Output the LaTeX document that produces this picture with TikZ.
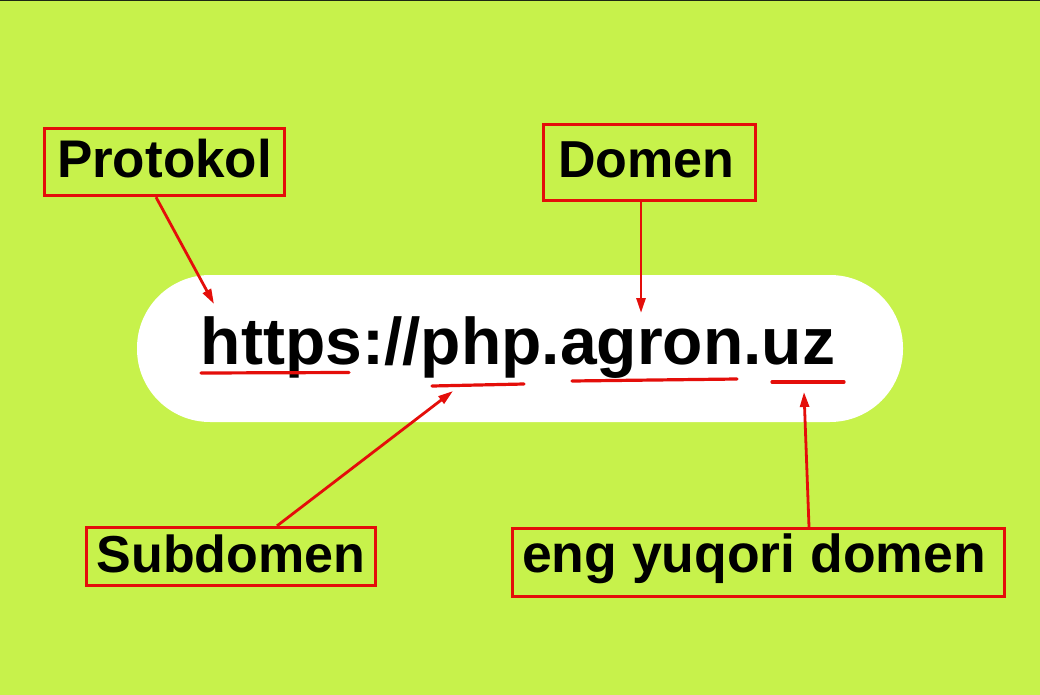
\documentclass[tikz,border=0pt]{standalone}
\usepackage{fontspec}
\setmainfont{Liberation Sans}
\usetikzlibrary{arrows.meta}
\definecolor{bglime}{RGB}{199,242,75}
\definecolor{mred}{RGB}{228,14,10}
\definecolor{topline}{RGB}{30,40,20}
\tikzset{
  labelbox/.style={draw=mred, line width=3.3pt, inner sep=0pt, text depth=0pt,
    font=\fontsize{53}{60}\selectfont\bfseries, text=black},
  pointer/.style={draw=mred, line width=2.8pt, -{Triangle[length=15pt,width=9pt]}},
  uline/.style={draw=mred, line width=3.2pt, line cap=round},
}
\begin{document}
\begin{tikzpicture}[x=1pt,y=-1pt]
\useasboundingbox (0,0) rectangle (1040,695);
\fill[bglime] (0,0) rectangle (1040,695);
\fill[topline] (0,0) rectangle (1040,1.5);
% pill
\fill[white, rounded corners=73pt] (137,275) rectangle (903,422);
\node[anchor=base, inner sep=0pt, font=\fontsize{66}{70}\selectfont\bfseries] (url) at (518,364) {https://php.agron.uz};
% underlines
\draw[uline] (201,373) -- (349,372.5);
\draw[uline] (432,386) -- (524,384);
\draw[uline] (572,381) -- (737,379);
\draw[uline] (772,382) -- (844,382);
% label boxes
\node[labelbox, minimum width=240pt, minimum height=67pt, text height=30pt] (prot) at (164.5,162) {Protokol};
\node[labelbox, minimum width=212pt, minimum height=76pt, text height=29pt, font=\fontsize{52}{60}\selectfont\bfseries] (dom) at (649.5,162.5) {Domen\hspace*{6pt}};
\node[labelbox, minimum width=289pt, minimum height=58pt, text height=31pt, font=\fontsize{52}{60}\selectfont\bfseries] (sub) at (231,556.5) {Subdomen};
\node[labelbox, minimum width=492pt, minimum height=68pt, text height=19pt, font=\fontsize{53.5}{60}\selectfont\bfseries] (tld) at (758.5,562.5) {eng yuqori domen\hspace*{9pt}};
% arrow targets
\coordinate (tprot) at (214,304);
\coordinate (tdom) at (641,313);
\coordinate (tsub) at (453,391);
\coordinate (ttld) at (804,392);
% arrows
\draw[pointer] ([xshift=-8.5pt]prot.south) -- (tprot);
\draw[pointer] ([xshift=-8.5pt]dom.south) -- (tdom);
\draw[pointer] ([xshift=46pt]sub.north) -- (tsub);
\draw[pointer] ([xshift=50.5pt]tld.north) -- (ttld);
\end{tikzpicture}
\end{document}
